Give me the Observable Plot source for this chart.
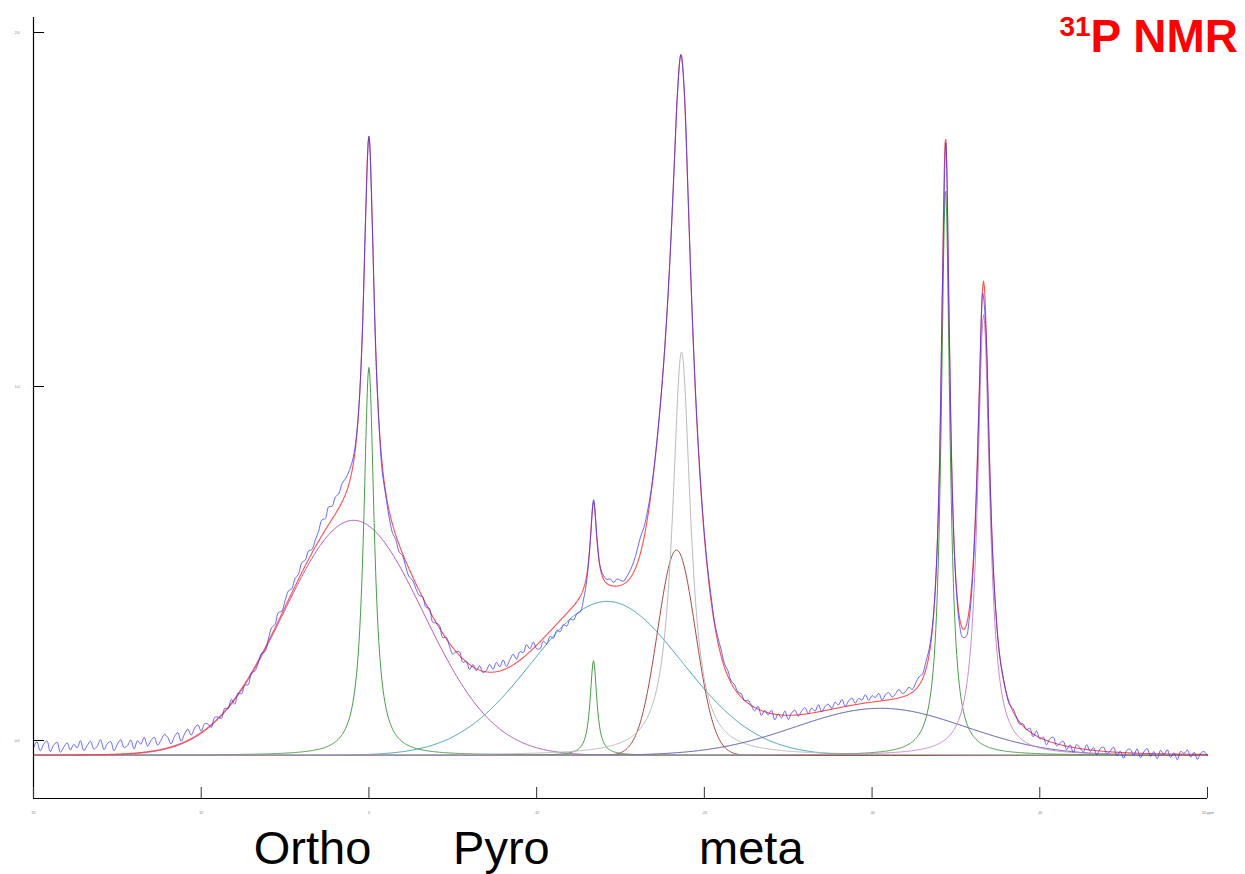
<!DOCTYPE html>
<html>
<head>
<meta charset="utf-8">
<script src="https://cdn.jsdelivr.net/npm/d3@7"></script>
<script src="https://cdn.jsdelivr.net/npm/@observablehq/plot@0.6"></script>
<style>
  body { margin: 0; background: #fff; }
  #chart { width: 1245px; height: 874px; }
</style>
</head>
<body>
<div id="chart"></div>
<script>
// Chemical-shift axis (ppm, high to low) and intensity axis
const ppmTicks = [20, 10, 0, -10, -20, -30, -40, -50];
const ppmTickLabels = ["20", "10", "0", "-10", "-20", "-30", "-40", "-50 ppm"];
const intensityTicks = [0, 1, 2];
const intensityTickLabels = ["0.0", "1.0", "2.0"];

// Species labels and the shift each is centred under
const speciesNames = ["Ortho", "Pyro", "meta"];
const speciesPpm = [3.36, -7.9, -22.8];

// Deconvolution components: line shape, centre (ppm), height, width (ppm)
// gauss width = sigma, lorentz width = half width at half maximum
const compNames = ["ortho-broad", "ortho-sharp", "pyro-broad", "pyro-sharp",
                   "meta-gauss", "meta-lorentz", "q-broad", "q-a", "q-b"];
const compShape = ["gauss", "lorentz", "gauss", "lorentz",
                   "gauss", "lorentz", "gauss", "lorentz", "lorentz"];
const compCentre = [0.92, 0.0, -14.2, -13.39, -18.34, -18.64, -30.5, -34.38, -36.65];
const compHeight = [0.664, 1.096, 0.435, 0.268, 0.58, 1.14, 0.133, 1.60, 1.245];
const compWidth = [4.17, 0.38, 4.47, 0.24, 1.13, 0.656, 5.07, 0.31, 0.44];
const baselineLevel = -0.042;

// Measured spectrum: deviation from the fitted envelope (thousandths),
// one value every 0.2 ppm from 20 ppm down to -50 ppm
const obsStep = 0.2;
const obsResidual = [
  20, 38, 12, 30, 40, 10, 28, 36, 8, 22, 34, 14, 30, 20, 40, 12, 26, 38, 16, 24,
  42, 14, 30, 36, 10, 28, 40, 18, 22, 38, 12, 34, 24, 42, 16, 30, 38, 14, 26, 40,
  30, 8, 26, 34, 6, 22, 32, 10, 24, 28, 4, 18,
  10, -8, 12, 4, -10, 8, -4, 10,
  -16, 2, -14, -4, -18, 0, -12, -6, 4, -10,
  6, 20, 10, 24, 8, 18, 26, 12, 22, 14, 28, 16, 24, 10, 20,
  28, 44, 32, 50, 36, 48, 40, 52, 44, 36, 24,
  12, 6, 2, 0, 0, -4, -8,
  -10, -20, -8, -18, -24, -12, -20, -6, -16, -22, -10, -14,
  -14, 2, -10, 6, -16, -2, 8, -12, 4, -8, -18, 0, 10, -10, 2, -14, 6, -6, 12, -4,
  4, 22, 8, 26, 12, 28, 6, 20, 30, 10, 24, 14, 28, 8, 18,
  -10, -20, -8, -26, -14, -30, -18, -32, -22, -36, -26, -40, -34, -44, -30,
  -15, -5, 5, 9, 6, 10, 12,
  18, 10, 20, 14, 8, 16, 22, 30,
  40, 45, 30, 20, 10, 5,
  3, 0, -3, 0, 2, 0, -2, 0, 2, 4, 6, 8, 10, 12, 10,
  12, 15, 8, 14, 18, 10, 16, 6, 12, 4, 10, -2, 8, 0,
  -10, 8, -14, 4, -6, 10, -16, 2, -8, 12, -12, 6, 14, -4, 10, 18, 0, 14, 4, 20,
  -2, 12, 16, 2, 18, 8, 22, 0, 14, 20, 4, 16, 10, 24, 6, 18, 12, 22, 2, 16,
  20, 6, 14, 24, 10,
  12, 20, 8, 18, 24, 14, 22, 16, 12, 6,
  0, -6, -10, -14, -10, -8,
  -18, -24, -30, -26, -20, -16, -18,
  -20, -16, -10, -4,
  4, -2, 6, 0, -4, 8, 2, -6, 6, -2,
  10, -8, 14, -4, 6, -12, 8, 16, -6, 4, 12, -10, 6, -14, 10, 2, -8, 14, -4, 8,
  -12, 6, 12, -6, 2, 14, -10, 4, -16, 8, 10, -6, 12, -12, 4, 14, -8, 6, -14, 10,
  -2, 12, -10, 4, -16, 8, 2, 12, -8, 6, -14, 4, 8, -4
];

// ---- layout ----
const W = 1245, H = 874;
const mLeft = 33, mRight = 38, mTop = 17, mBottom = 76;
const xDomain = [20, -50];
const yDomain = [-0.1638, 2.0424];
const pxPerPpm = (W - mLeft - mRight) / (xDomain[0] - xDomain[1]);
const pxPerUnit = (H - mTop - mBottom) / (yDomain[1] - yDomain[0]);
const tickLen = 11;

// line shape of component k at shift p
function component(k, p) {
  const d = p - compCentre[k], w = compWidth[k];
  return compShape[k] === "gauss"
    ? compHeight[k] * Math.exp(-d * d / (2 * w * w))
    : compHeight[k] / (1 + (d / w) * (d / w));
}
function envelope(p) {
  let s = baselineLevel;
  for (let k = 0; k < compNames.length; k++) s += component(k, p);
  return s;
}

const grid = d3.range(0, 1401).map(j => 20 - j * 0.05);
const compRows = compNames.flatMap((name, k) =>
  grid.map(p => ({name, ppm: p, v: baselineLevel + component(k, p)})));
const fitRows = grid.map(p => ({ppm: p, v: envelope(p)}));
const obsRows = obsResidual.map((r, i) => {
  const p = 20 - i * obsStep;
  return {ppm: p, v: envelope(p) + r / 1000};
});

const font = "Liberation Sans, Arial, Helvetica, sans-serif";

const chart = Plot.plot({
  width: W,
  height: H,
  marginLeft: mLeft,
  marginRight: mRight,
  marginTop: mTop,
  marginBottom: mBottom,
  style: {background: "#fff", fontFamily: font, overflow: "visible"},
  x: {domain: xDomain, axis: null},
  y: {domain: yDomain, axis: null},
  color: {
    domain: compNames,
    range: ["#b257b4", "#4c9c4c", "#43a3a6", "#4c9c4c", "#a64848",
            "#bbbbbb", "#5656ac", "#4c9c4c", "#c98ccc"]
  },
  marks: [
    // fitted components
    Plot.line(compRows, {x: "ppm", y: "v", z: "name", stroke: "name", strokeWidth: 1}),
    // fitted envelope
    Plot.line(fitRows, {x: "ppm", y: "v", stroke: "#ff3c3c", strokeWidth: 1.1, strokeOpacity: 0.9}),
    // measured spectrum
    Plot.line(obsRows, {x: "ppm", y: "v", stroke: "#3535ff", strokeWidth: 1, strokeOpacity: 0.75, curve: "catmull-rom"}),
    // axis lines
    Plot.ruleX([xDomain[0]], {stroke: "#000", strokeWidth: 1.2}),
    Plot.ruleY([yDomain[0]], {stroke: "#000", strokeWidth: 1.2}),
    // inward ticks
    Plot.ruleX(ppmTicks, {x: d => d, y1: yDomain[0], y2: yDomain[0] + tickLen / pxPerUnit, stroke: "#333", strokeWidth: 1}),
    Plot.ruleY(intensityTicks, {y: d => d, x1: xDomain[0], x2: xDomain[0] - tickLen / pxPerPpm, stroke: "#000", strokeWidth: 1}),
    // tick labels
    Plot.text(ppmTicks, {x: d => d, frameAnchor: "bottom", dy: 15, text: (d, i) => ppmTickLabels[i], fontSize: 3.5, fill: "#777"}),
    Plot.text(intensityTicks, {y: d => d, frameAnchor: "left", dx: -14, textAnchor: "end", text: (d, i) => intensityTickLabels[i], fontSize: 3.5, fill: "#777"}),
    // species labels
    Plot.text(speciesNames, {x: (d, i) => speciesPpm[i], frameAnchor: "bottom", dy: 65, text: d => d, fontSize: 47, fill: "#000", fontFamily: font})
  ]
});

document.getElementById("chart").appendChild(chart);

// nucleus label in the top-right corner
const title = d3.select(chart).append("text")
  .attr("x", 1238).attr("y", 52)
  .attr("text-anchor", "end")
  .attr("fill", "#ff0000")
  .attr("font-family", font)
  .attr("font-weight", "bold");
title.append("tspan").attr("font-size", 28).attr("dy", -16).text("31");
title.append("tspan").attr("font-size", 46).attr("dy", 16).text("P NMR");
</script>
</body>
</html>
